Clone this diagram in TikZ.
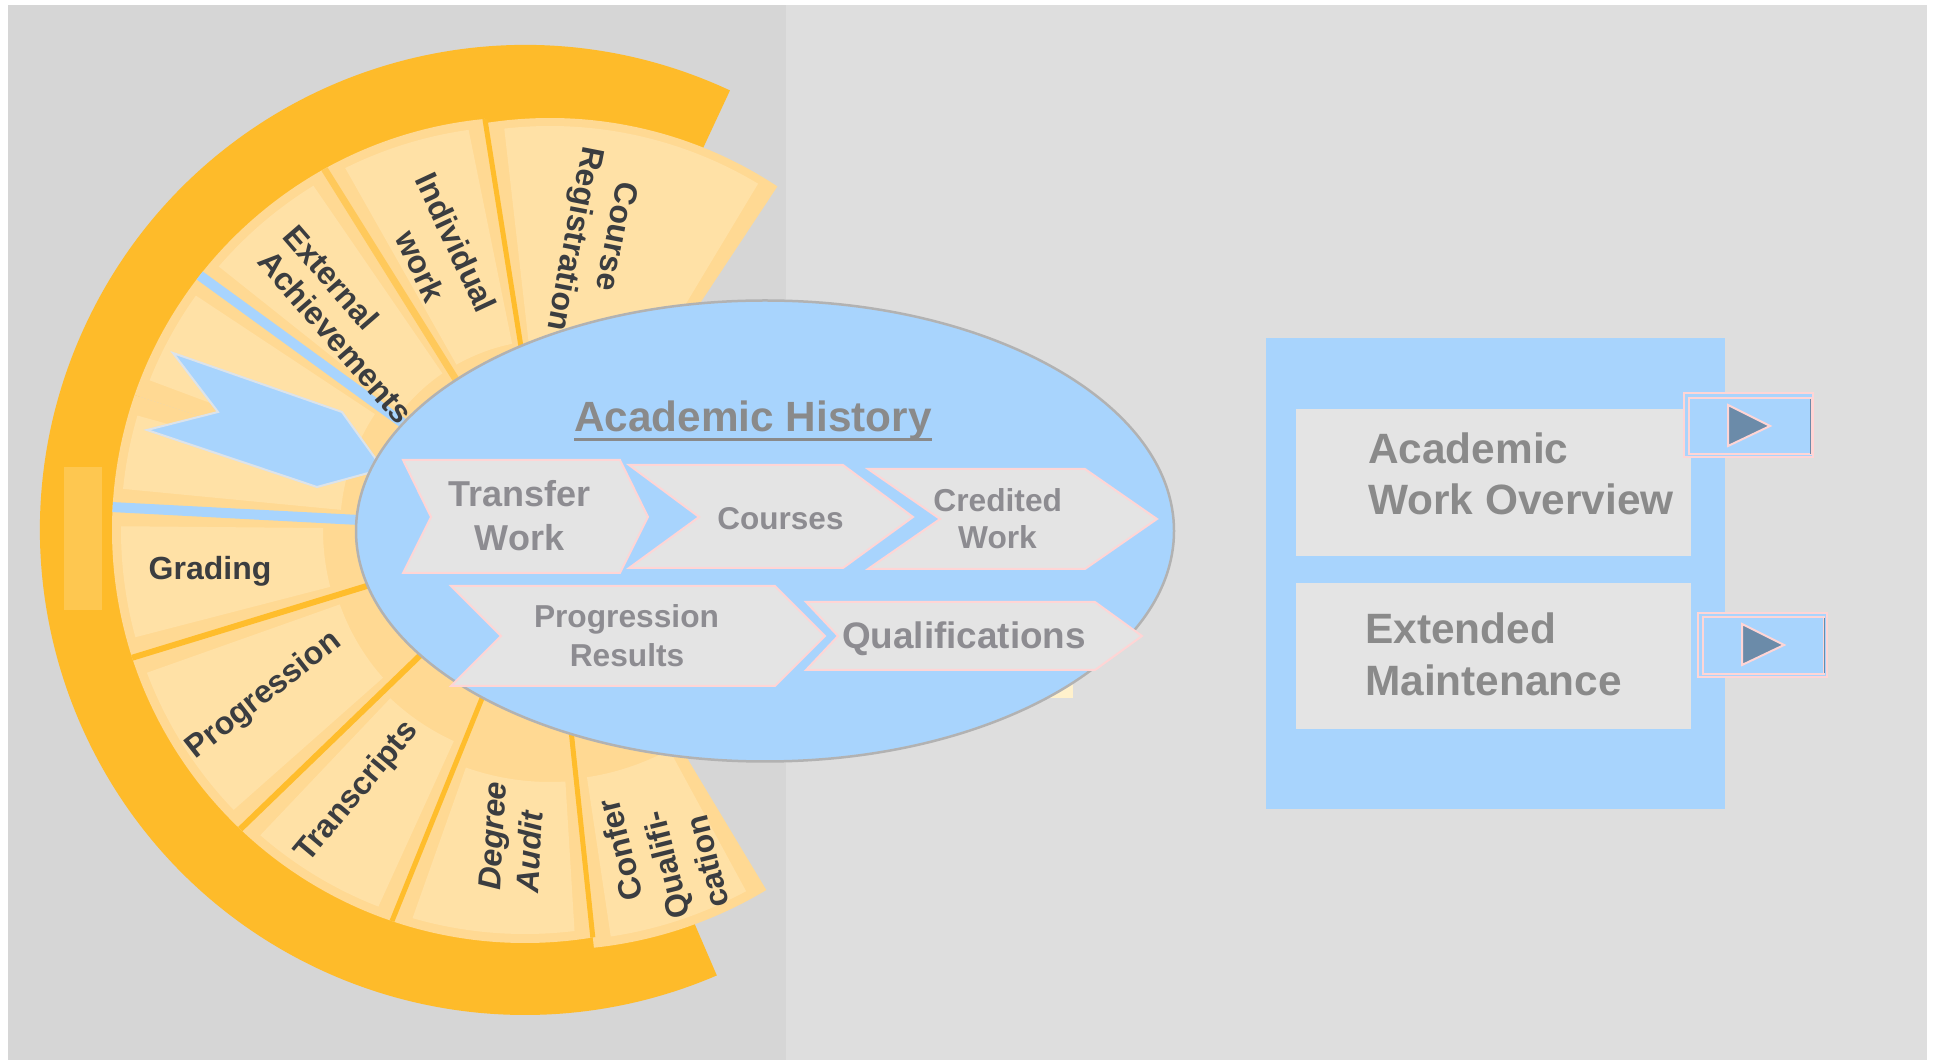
\documentclass[tikz,border=0pt]{standalone}
\usepackage{fontspec}
\setmainfont{Liberation Sans}
\usetikzlibrary{calc,shapes.geometric}

\definecolor{bgL}{HTML}{D6D6D6}
\definecolor{bgR}{HTML}{DEDEDE}
\definecolor{ringC}{HTML}{FEBB2A}
\definecolor{ringL}{HTML}{FEC750}
\definecolor{segD}{HTML}{FFD993}
\definecolor{segL}{HTML}{FFE1A6}
\definecolor{sepO}{HTML}{FFBD2C}
\definecolor{sepOb}{HTML}{FFC95B}
\definecolor{blueC}{HTML}{A8D4FD}
\definecolor{ellB}{HTML}{B2B2B2}
\definecolor{chevF}{HTML}{E4E4E4}
\definecolor{chevB}{HTML}{FFD5D5}
\definecolor{chevT}{HTML}{8D8C91}
\definecolor{grayT}{HTML}{8A8A8A}
\definecolor{segT}{HTML}{3B3D40}
\definecolor{triC}{HTML}{6B8BA9}
\definecolor{creamC}{HTML}{FFF1CC}
\definecolor{chevEdge}{HTML}{DCE3EA}

\newcommand{\FS}[2]{\fontsize{#1}{#2}\selectfont}
\newcommand{\SegFill}[5]{\fill[#5] ($(C2)+(#1:#3)$) -- ($(C2)+(#1:#4)$) arc[start angle=#1,end angle=#2,radius=#4] -- ($(C2)+(#2:#3)$) arc[start angle=#2,end angle=#1,radius=#3] -- cycle;}
\newcommand{\SepLine}[3]{\draw[#2, line width=#3] ($(C2)+(#1:150)$) -- ($(C2)+(#1:600)$);}

\tikzset{
  seglabel/.style={font=\bfseries\FS{32}{38}, text=segT, inner sep=0pt, text height=23pt, text depth=0pt, anchor=center},
  seglabelit/.style={seglabel, font=\bfseries\itshape\FS{32}{38}},
  chevshape/.style={fill=chevF, draw=chevB, line width=2pt, line join=miter},
  chevtext/.style={font=\bfseries\FS{#1}{#1}, text=chevT, inner sep=0pt, anchor=base},
  chevtext/.default=32,
  boxtext/.style={font=\bfseries\FS{42.4}{50}, text=grayT, inner sep=0pt, anchor=base west},
  btnframe/.style={draw=chevB, line width=2pt},
  tri/.style={fill=triC, draw=chevB, line width=2pt, line join=miter}
}

\begin{document}
\begin{tikzpicture}[x=1pt,y=1pt]
\useasboundingbox (0,0) rectangle (1937,1060);
\fill[white] (0,0) rectangle (1937,1060);
\fill[bgL] (8,0) rectangle (786,1055);
\fill[bgR] (786,0) rectangle (1927,1055);

\coordinate (C1) at (525,530);
\coordinate (C2) at (550,530);

% orange ring
\fill[ringC] ($(C1)+(65:485)$) arc[start angle=65,end angle=293.3,radius=485] -- ($(C1)+(293.3:408)$) arc[start angle=293.3,end angle=65,radius=408] -- cycle;
\fill[ringL] (64,450) rectangle (102,593);

% end segments
\SegFill{56.5}{99}{150}{412}{segD}
\SegFill{59}{96.5}{190}{404}{segL}
\SegFill{276}{301}{150}{420}{segD}
\SegFill{278.5}{298.5}{250}{411}{segL}

% middle segments
\begin{scope}
  \clip (C1) circle[radius=413];
  \SegFill{99}{122}{150}{600}{segD}
  \SegFill{122}{144}{150}{600}{segD}
  \SegFill{144}{162}{150}{600}{segD}
  \SegFill{162}{177}{150}{600}{segD}
  \SegFill{177}{197}{150}{600}{segD}
  \SegFill{197}{224}{150}{600}{segD}
  \SegFill{224}{248}{150}{600}{segD}
  \SegFill{248}{276}{150}{600}{segD}
\end{scope}
\begin{scope}
  \clip (C1) circle[radius=404];
  \SegFill{101.5}{119.5}{190}{600}{segL}
  \SegFill{124.5}{141.5}{190}{600}{segL}
  \SegFill{146.5}{159.5}{210}{600}{segL}
  \SegFill{164.5}{174.5}{210}{600}{segL}
  \SegFill{179.5}{194.5}{227}{600}{segL}
  \SegFill{199.5}{221.5}{223}{600}{segL}
  \SegFill{226.5}{245.5}{232}{600}{segL}
  \SegFill{250.5}{273.5}{252}{600}{segL}
\end{scope}
\begin{scope}
  \clip (C1) circle[radius=413];
  \SepLine{99}{sepO}{5pt}
  \SepLine{122}{sepOb}{7pt}
  \SepLine{144}{blueC}{10pt}
  \SepLine{177}{blueC}{10pt}
  \SepLine{197}{sepO}{6pt}
  \SepLine{224}{sepO}{6pt}
  \SepLine{248}{sepO}{5pt}
  \SepLine{276}{sepO}{5pt}
\end{scope}

% blue chevron arrow
\draw[fill=blueC, draw=chevEdge, line width=2pt, line join=miter] (173,707) -- (342,648) -- (383,591) -- (317,573) -- (147,630) -- (218,648) -- cycle;

% segment labels
\node[seglabel, rotate=-101] (cr1) at (618,823) {Course};
\node[seglabel, rotate=-101] (cr2) at (576.5,821) {Registration};
\node[seglabel, rotate=-65] (iw1) at (456.5,817.5) {Individual};
\node[seglabel, rotate=-65] (iw2) at (421,794) {work};
\node[seglabel, rotate=-49] (ea1) at (331.5,782.5) {External};
\node[seglabel, rotate=-49] (ea2) at (336,723) {Achievements};
\node[seglabel, anchor=base] (gr) at (210,480) {Grading};
\node[seglabel, rotate=38] (pg) at (262,367) {Progression};
\node[seglabel, rotate=50] (tr) at (355,270) {Transcripts};
\node[seglabelit, rotate=87] (da1) at (492,224) {Degree};
\node[seglabelit, rotate=87] (da2) at (529,208) {Audit};
\node[seglabel, rotate=104] (cq1) at (620,210) {Confer};
\node[seglabel, rotate=104] (cq2) at (666,195) {Qualifi-};
\node[seglabel, rotate=104] (cq3) at (707,198) {cation};

% cream patch under ellipse
\fill[creamC] (1030,362) rectangle (1073,410);

% central ellipse
\node[ellipse, draw=ellB, line width=2.5pt, fill=blueC, minimum width=818pt, minimum height=461pt, inner sep=0pt] (hist) at (765,529) {};

\node[font=\bfseries\FS{42.3}{50}, text=grayT, inner sep=0pt, anchor=base] (title) at (753,628.3) {Academic History};
\draw[grayT, line width=2.7pt] ([yshift=-7.6pt]title.base west) -- ([yshift=-7.6pt]title.base east);

% process chevrons
\draw[chevshape] (403,600) -- (620,600) -- (648,543) -- (620,487) -- (403,487) -- (431,543) -- cycle;
\node[chevtext=36] (tw1) at (519.5,553) {Transfer};
\node[chevtext=36] (tw2) at (519.5,509) {Work};

\draw[chevshape] (629,595) -- (843,595) -- (913,543) -- (843,492) -- (629,492) -- (699,543) -- cycle;
\node[chevtext=31.5] (co) at (780.5,530) {Courses};

\draw[chevshape] (868,591) -- (1085,591) -- (1157,541) -- (1085,491) -- (868,491) -- (940,541) -- cycle;
\node[chevtext=31.7] (cw1) at (997.7,548.3) {Credited};
\node[chevtext=31.7] (cw2) at (997.5,511) {Work};

\draw[chevshape] (451,474) -- (775,474) -- (825,424) -- (775,374) -- (451,374) -- (501,424) -- cycle;
\node[chevtext=31.7] (pr1) at (626.5,432) {Progression};
\node[chevtext=31.7] (pr2) at (627,393.3) {Results};

\draw[chevshape] (806,458) -- (1095,458) -- (1142,424) -- (1095,390) -- (806,390) -- (838,424) -- cycle;
\node[chevtext=36.9] (qu) at (964,411) {Qualifications};

% right panel
\fill[blueC] (1266,251) rectangle (1725,722);
\fill[chevF] (1296,504) rectangle (1691,651);
\fill[chevF] (1296,331) rectangle (1691,477);
\node[boxtext] (aw1) at (1368,596.7) {Academic};
\node[boxtext] (aw2) at (1368,545) {Work Overview};
\node[boxtext] (em1) at (1365,416.7) {Extended};
\node[boxtext] (em2) at (1365,364) {Maintenance};

% buttons
\fill[blueC] (1684,603) rectangle (1813,667);
\draw[btnframe] (1684,603) rectangle (1813,667);
\draw[btnframe] (1689,605.5) rectangle (1810.5,662);
\draw[triC, line width=1pt] (1810.5,606) -- (1810.5,661);
\draw[tri] (1728,655) -- (1770,634) -- (1728,614) -- cycle;

\fill[blueC] (1698,383) rectangle (1827,447);
\draw[btnframe] (1698,383) rectangle (1827,447);
\draw[btnframe] (1703,386) rectangle (1824,443);
\draw[triC, line width=1pt] (1824,387) -- (1824,442);
\draw[tri] (1742,436) -- (1784,415) -- (1742,395) -- cycle;
\end{tikzpicture}
\end{document}
